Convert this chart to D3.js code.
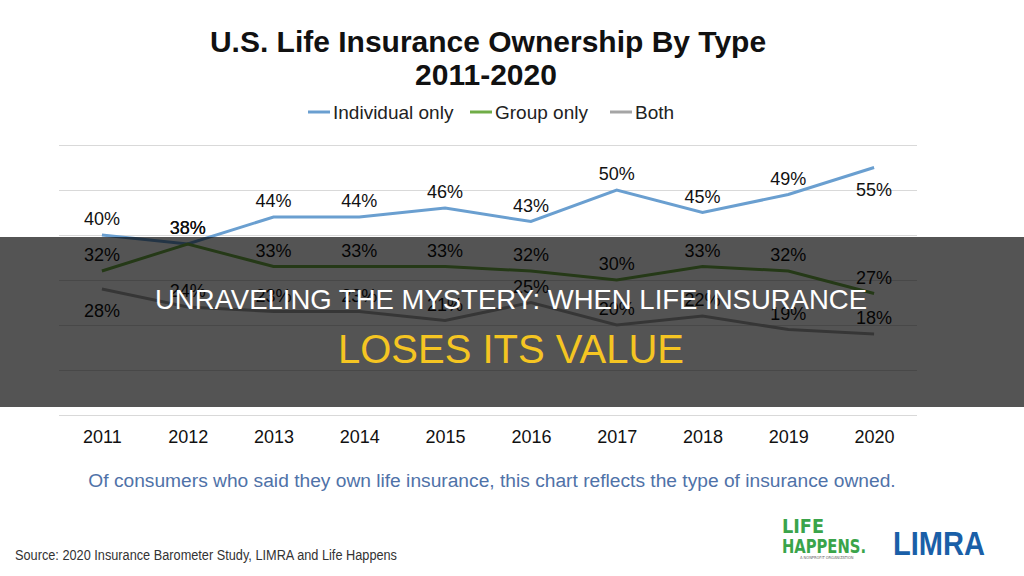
<!DOCTYPE html>
<html>
<head>
<meta charset="utf-8">
<script src="https://cdn.jsdelivr.net/npm/d3@7"></script>
<style>
  body { margin: 0; background: #fff; }
  svg { display: block; font-family: "Liberation Sans", Arial, sans-serif; }
</style>
</head>
<body>
<svg id="chart"></svg>
<script>
const years = ["2011", "2012", "2013", "2014", "2015", "2016", "2017", "2018", "2019", "2020"];
const individualOnly = [40, 38, 44, 44, 46, 43, 50, 45, 49, 55];
const groupOnly = [32, 38, 33, 33, 33, 32, 30, 33, 32, 27];
const both = [28, 24, 23, 23, 21, 25, 20, 22, 19, 18];
const seriesNames = ["Individual only", "Group only", "Both"];
const yTicks = [0, 10, 20, 30, 40, 50, 60];
// labels that Excel put under the point instead of above it
const labelsBelow = { "Individual only": ["2020"], "Both": ["2011"] };

const width = 1024, height = 576;
const colors = { "Individual only": "#6a9fd0", "Group only": "#70ad47", "Both": "#a5a5a5" };

const series = [
  { name: "Individual only", values: individualOnly },
  { name: "Group only", values: groupOnly },
  { name: "Both", values: both }
];

const svg = d3.select("#chart")
  .attr("width", width)
  .attr("height", height);

// titles
svg.append("text")
  .attr("x", 488).attr("y", 52)
  .attr("text-anchor", "middle")
  .style("font-size", "30px").style("font-weight", "bold").attr("fill", "#111")
  .text("U.S. Life Insurance Ownership By Type");
svg.append("text")
  .attr("x", 486).attr("y", 85)
  .attr("text-anchor", "middle")
  .style("font-size", "30px").style("font-weight", "bold").attr("fill", "#111")
  .text("2011-2020");

// legend
const legendX = [308, 470, 610];
const legend = svg.append("g");
seriesNames.forEach((name, i) => {
  legend.append("line")
    .attr("x1", legendX[i]).attr("x2", legendX[i] + 22)
    .attr("y1", 112).attr("y2", 112)
    .attr("stroke", colors[name]).attr("stroke-width", 3);
  legend.append("text")
    .attr("x", legendX[i] + 25).attr("y", 119)
    .style("font-size", "19px").attr("fill", "#222")
    .text(name);
});

const x = d3.scalePoint()
  .domain(years)
  .range([59, 917])
  .padding(0.5);

const y = d3.scaleLinear()
  .domain([0, 60])
  .range([415, 145]);

// gridlines
svg.append("g")
  .attr("transform", "translate(59,0)")
  .call(d3.axisLeft(y).tickValues(yTicks).tickSize(-858).tickFormat(""))
  .call(g => g.select(".domain").remove())
  .call(g => g.selectAll(".tick line").attr("stroke", "#d9d9d9").attr("stroke-width", 1));

// x axis labels
svg.append("g")
  .attr("transform", "translate(0,415)")
  .call(d3.axisBottom(x).tickSize(0).tickPadding(15))
  .call(g => g.select(".domain").remove())
  .call(g => g.selectAll("text").style("font-size", "18px").attr("fill", "#111")
    .style("font-family", "'Liberation Sans', Arial, sans-serif"));

const line = d3.line()
  .x((d, i) => x(years[i]))
  .y(d => y(d));

series.forEach(s => {
  svg.append("path")
    .datum(s.values)
    .attr("fill", "none")
    .attr("stroke", colors[s.name])
    .attr("stroke-width", 3)
    .attr("d", line);
});

series.forEach(s => {
  const below = labelsBelow[s.name] || [];
  svg.append("g").selectAll("text")
    .data(s.values)
    .join("text")
    .attr("x", (d, i) => x(years[i]))
    .attr("y", (d, i) => y(d) + (below.includes(years[i]) ? 28 : -10))
    .attr("text-anchor", "middle")
    .style("font-size", "18px")
    .attr("fill", "#111")
    .text(d => d + "%");
});

// note under the chart
svg.append("text")
  .attr("x", 492).attr("y", 487)
  .attr("text-anchor", "middle")
  .style("font-size", "19.2px").attr("fill", "#4f72a8")
  .text("Of consumers who said they own life insurance, this chart reflects the type of insurance owned.");

svg.append("text")
  .attr("x", 15).attr("y", 560)
  .attr("textLength", 382).attr("lengthAdjust", "spacingAndGlyphs")
  .style("font-size", "14px").attr("fill", "#333")
  .text("Source: 2020 Insurance  Barometer Study, LIMRA and Life Happens");

// logos as text
const lh = svg.append("g").attr("fill", "#3aa44a").style("font-weight", "bold")
  .style("font-family", "'DejaVu Sans Condensed', 'Liberation Sans Narrow', sans-serif");
lh.append("text").attr("x", 782).attr("y", 533).attr("textLength", 42).attr("lengthAdjust", "spacingAndGlyphs")
  .style("font-size", "20px").text("LIFE");
lh.append("text").attr("x", 782).attr("y", 553).attr("textLength", 84).attr("lengthAdjust", "spacingAndGlyphs")
  .style("font-size", "20px").text("HAPPENS.");
lh.append("text").attr("x", 800).attr("y", 559).style("font-size", "4px").attr("fill", "#666")
  .style("font-weight", "normal").text("A NONPROFIT ORGANIZATION");

svg.append("text")
  .attr("x", 893).attr("y", 555)
  .attr("textLength", 92).attr("lengthAdjust", "spacingAndGlyphs")
  .style("font-size", "34px").style("font-weight", "bold").attr("fill", "#1a5fa8")
  .text("LIMRA");

// dark banner over the middle
svg.append("rect")
  .attr("x", 0).attr("y", 237)
  .attr("width", width).attr("height", 170)
  .attr("fill", "#000").attr("fill-opacity", 0.67);

svg.append("text")
  .attr("x", 511).attr("y", 309)
  .attr("text-anchor", "middle")
  .style("font-size", "27.5px").attr("fill", "#fff")
  .text("UNRAVELING THE MYSTERY: WHEN LIFE INSURANCE");
svg.append("text")
  .attr("x", 511).attr("y", 363)
  .attr("text-anchor", "middle")
  .style("font-size", "40px").attr("fill", "#f5c522")
  .text("LOSES ITS VALUE");
</script>
</body>
</html>
